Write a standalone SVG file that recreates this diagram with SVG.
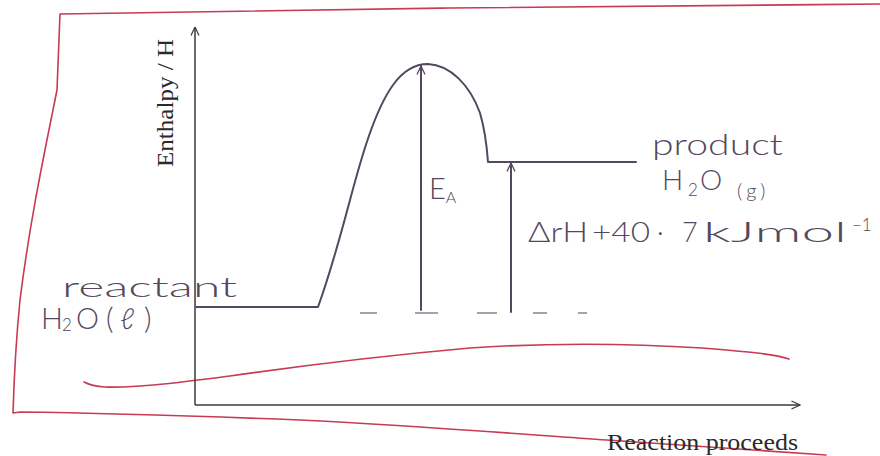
<svg xmlns="http://www.w3.org/2000/svg" width="880" height="456" viewBox="0 0 880 456">
<style>
.red{fill:none;stroke:#c83a55;stroke-width:1.6;stroke-linecap:round;stroke-linejoin:round}
.axis{fill:none;stroke:#3a3a3a;stroke-width:1.5}
.pen{fill:none;stroke:#54485e;stroke-width:2;stroke-linecap:round;stroke-linejoin:round}
.dash{fill:none;stroke:#8a8290;stroke-width:1.6}
.serif{font-family:"Liberation Serif","Times New Roman",serif;fill:#2a2a2a}
.hand{font-family:Lato,"Open Sans","DejaVu Sans",sans-serif;fill:#54485e;font-weight:300}
</style>
<defs>
<marker id="chev" viewBox="0 0 10 10" refX="9.5" refY="5" markerWidth="10" markerHeight="14" markerUnits="userSpaceOnUse" orient="auto">
<path d="M1,1 L9.5,5 L1,9" fill="none" stroke="#3a3a3a" stroke-width="1.2"/>
</marker>
<marker id="chevp" viewBox="0 0 10 10" refX="9.5" refY="5" markerWidth="10" markerHeight="16" markerUnits="userSpaceOnUse" orient="auto">
<path d="M1,1 L9.5,5 L1,9" fill="none" stroke="#54485e" stroke-width="1.3"/>
</marker>
</defs>
<rect width="880" height="456" fill="#ffffff"/>
<g id="border">
<path class="red" d="M880,4 C700,6 500,7 449,8 C300,10 150,12 60,14 L57,90 C45,150 30,220 20,300 C16,340 14,380 13,413 L20,412 C100,413 170,415 300,420 C420,426 520,434 607,440 C700,446 780,452 826,455"/>
<path class="red" d="M84,382 C95,388 110,388 140,386 C170,384 190,381 230,376 C300,366 380,356 470,348 C560,342 640,344 702,348 C750,352 775,354 789,359"/>
</g>
<g id="axes">
<line class="axis" x1="195" y1="405" x2="195" y2="27" marker-end="url(#chev)"/>
<line class="axis" x1="195" y1="405" x2="800" y2="405" marker-end="url(#chev)"/>
<text class="serif" font-size="23" textLength="128" lengthAdjust="spacingAndGlyphs" transform="translate(173,167) rotate(-90)">Enthalpy / H</text>
<text class="serif" x="607" y="450" font-size="24" textLength="191" lengthAdjust="spacingAndGlyphs">Reaction proceeds</text>
</g>
<g id="profile">
<path class="pen" d="M196,307 L318,307 C326,285 338,245 350,200 C362,155 375,110 393,85 C403,71 415,64 428,64 C450,65 470,85 480,113 C485,130 487,148 488,162 L636,162"/>
<path class="dash" d="M360,313 h17 M415,313 h23 M477,313 h20 M533,313 h14 M578,313 h9"/>
</g>
<g id="reactant">
<text class="hand" x="62" y="297" font-size="28" textLength="175" lengthAdjust="spacingAndGlyphs">reactant</text>
<text class="hand" y="329" font-size="29"><tspan x="41">H</tspan><tspan x="62" font-size="17" dy="2">2</tspan><tspan x="76" dy="-2">O</tspan><tspan x="106">(</tspan><tspan x="120">ℓ</tspan><tspan x="144">)</tspan></text>
</g>
<g id="product">
<text class="hand" x="652" y="155" font-size="29" textLength="131" lengthAdjust="spacingAndGlyphs">product</text>
<text class="hand" y="190" font-size="28"><tspan x="662">H</tspan><tspan x="688" font-size="17" dy="6">2</tspan><tspan x="700" dy="-6">O</tspan><tspan x="737" font-size="20" dy="8" letter-spacing="4">(g)</tspan></text>
</g>
<g id="connectors">
<line class="pen" x1="421" y1="310" x2="421" y2="66" marker-end="url(#chevp)"/>
<line class="pen" x1="511" y1="312" x2="511" y2="163" marker-end="url(#chevp)"/>
</g>
<g id="labels">
<text class="hand" x="429" y="199" font-size="29">E<tspan font-size="16" dy="4">A</tspan></text>
<text class="hand" y="242" font-size="27"><tspan x="528" textLength="60" lengthAdjust="spacingAndGlyphs">ΔrH</tspan><tspan x="592" textLength="58" lengthAdjust="spacingAndGlyphs">+40</tspan><tspan x="657">·</tspan><tspan x="682">7</tspan><tspan x="703" textLength="144" lengthAdjust="spacingAndGlyphs">kJmol</tspan><tspan x="852" font-size="17" dy="-11">−1</tspan></text>
</g>
</svg>
